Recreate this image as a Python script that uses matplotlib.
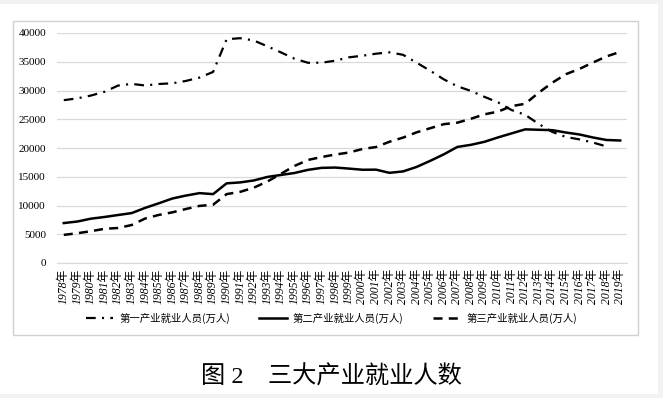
import matplotlib.pyplot as plt
from matplotlib.patches import Rectangle

plt.rcParams['font.family'] = ['Liberation Serif', 'Noto Sans CJK SC', 'DejaVu Sans']
plt.rcParams['lines.scale_dashes'] = False

years = list(range(1978, 2020))
year_labels = [f"{y}年" for y in years]

# 第一产业 (stops at 2018 in the figure)
primary = [28318, 28634, 29122, 29777, 30859, 31151, 30868, 31130, 31254, 31663,
           32249, 33225, 38914, 39098, 38699, 37680, 36628, 35530, 34820, 34840,
           35177, 35768, 36043, 36399, 36640, 36204, 34830, 33442, 31941, 30731,
           29923, 28890, 27931, 26594, 25773, 24171, 22790, 21919, 21496, 20944,
           20258]
secondary = [6945, 7214, 7707, 8003, 8346, 8679, 9590, 10384, 11216, 11726,
             12152, 11976, 13856, 14015, 14355, 14965, 15312, 15655, 16203, 16547,
             16600, 16421, 16219, 16234, 15682, 15927, 16709, 17766, 18894, 20186,
             20553, 21080, 21842, 22544, 23241, 23170, 23099, 22693, 22350, 21824,
             21390, 21305]
tertiary = [4890, 5177, 5532, 5945, 6090, 6606, 7739, 8359, 8811, 9395,
            9933, 10129, 11979, 12378, 13098, 14163, 15515, 16880, 17927, 18432,
            18860, 19205, 19823, 20165, 21090, 21809, 22725, 23439, 24143, 24404,
            25087, 25857, 26332, 27282, 27690, 29636, 31364, 32839, 33757, 34872,
            35938, 36721]

labels = ["第一产业就业人员(万人)", "第二产业就业人员(万人)", "第三产业就业人员(万人)"]

W, H = 663, 398
fig = plt.figure(figsize=(W / 100, H / 100), dpi=100)
fig.patch.set_facecolor('white')

# light grey page edges and chart frame
for x0, y0, w, h in [(0, H - 4, W, 4), (W - 5, 0, 5, H), (0, 0, W, 4)]:
    fig.add_artist(Rectangle((x0 / W, y0 / H), w / W, h / H, transform=fig.transFigure,
                             facecolor='#f2f2f2', edgecolor='none'))
fig.add_artist(Rectangle((13 / W, (H - 335) / H), 625 / W, 314 / H, transform=fig.transFigure,
                         facecolor='none', edgecolor='#d0d0d0', linewidth=1))

ax = fig.add_axes([57 / W, (H - 263) / H, 570 / W, 230 / H])
idx = list(range(len(years)))
ax.plot(idx[:len(primary)], primary, color='black', lw=1.6,
        linestyle=(0, (7, 4.5, 1.5, 4.5)), label=labels[0])
ax.plot(idx, secondary, color='black', lw=1.8, linestyle='-', label=labels[1])
ax.plot(idx, tertiary, color='black', lw=1.8, linestyle=(0, (6.5, 4.5)), label=labels[2])

ax.set_xlim(-0.5, len(years) - 0.5)
ax.set_ylim(0, 40000)
ax.set_yticks(range(0, 40001, 5000))
ax.tick_params(axis='y', length=0, labelsize=8, pad=8)
ax.set_xticks(idx)
ax.set_xticklabels(year_labels, rotation=90, fontsize=8.5, fontstyle='italic')
ax.tick_params(axis='x', length=0, pad=4)
ax.grid(axis='y', color='#d9d9d9', linewidth=0.9)
ax.set_axisbelow(True)
for s in ax.spines.values():
    s.set_visible(False)
ax.spines['bottom'].set_visible(True)
ax.spines['bottom'].set_color('#d9d9d9')

fig.legend(loc='center', bbox_to_anchor=(0.5, 1 - 318 / H), ncol=3, frameon=False,
           prop={'family': ['Noto Sans CJK SC'], 'size': 7.5}, handlelength=2.6,
           columnspacing=2.8, handletextpad=0.6)

fig.text(0.5, 1 - 377 / H, "图 2　三大产业就业人数", ha='center', va='center',
         fontsize=17.5, family=['Liberation Serif', 'Noto Sans CJK SC'])

fig.savefig('out.png', dpi=100)
